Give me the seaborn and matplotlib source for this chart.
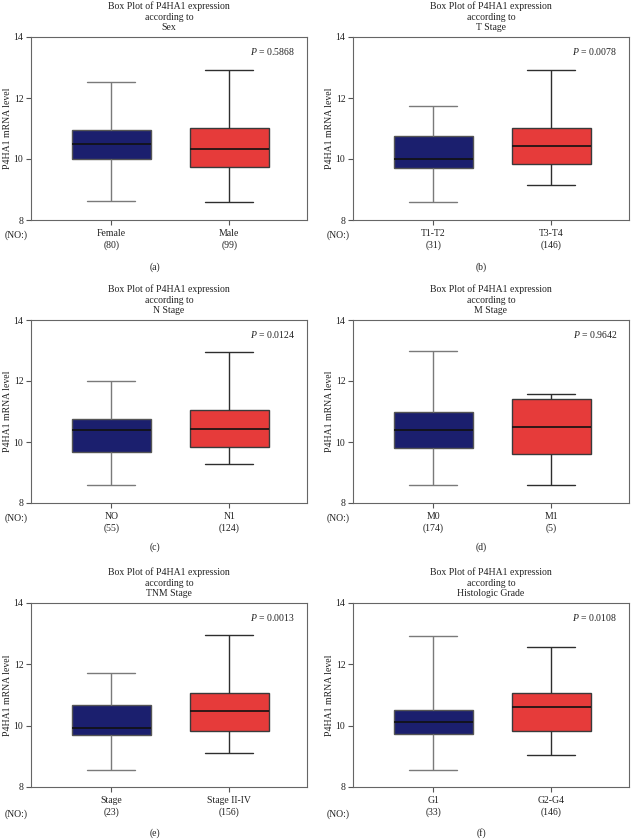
import matplotlib
matplotlib.use("Agg")

import matplotlib.pyplot as plt
import numpy as np
import pandas as pd
import seaborn as sns

# ── data ──
panel_factors = ["Sex", "T Stage", "N Stage", "M Stage", "TNM Stage", "Histologic Grade"]
panel_letters = ["(a)", "(b)", "(c)", "(d)", "(e)", "(f)"]
group_names = [
    ["Female", "Male"],
    ["T1-T2", "T3-T4"],
    ["NO", "N1"],
    ["M0", "M1"],
    ["Stage", "Stage II-IV"],
    ["G1", "G2-G4"],
]
group_counts = [[80, 99], [31, 146], [55, 124], [174, 5], [23, 156], [33, 146]]
p_values = ["0.5868", "0.0078", "0.0124", "0.9642", "0.0013", "0.0108"]

# five summary points per group: min, Q1, median, Q3, max
sex_female = [8.63, 10.01, 10.48, 10.96, 12.51]
sex_male = [8.58, 9.73, 10.32, 11.03, 12.93]
t_low = [8.58, 9.69, 9.99, 10.75, 11.73]
t_high = [9.15, 9.83, 10.43, 11.03, 12.93]
n_low = [8.58, 9.68, 10.38, 10.77, 11.99]
n_high = [9.28, 9.85, 10.43, 11.04, 12.94]
m_low = [8.58, 9.81, 10.39, 10.97, 12.99]
m_high = [8.58, 9.61, 10.48, 11.41, 11.57]
tnm_low = [8.57, 9.68, 9.91, 10.69, 11.72]
tnm_high = [9.12, 9.84, 10.48, 11.07, 12.95]
grade_low = [8.57, 9.73, 10.11, 10.50, 12.94]
grade_high = [9.04, 9.84, 10.61, 11.07, 12.55]

panel_values = [
    (sex_female, sex_male),
    (t_low, t_high),
    (n_low, n_high),
    (m_low, m_high),
    (tnm_low, tnm_high),
    (grade_low, grade_high),
]

# ── style ──
NAVY = "#1b1f6e"
RED = "#e63b3a"
EDGE = ["#555555", "#3a3a3a"]
WHISKER = ["#7a7a7a", "#2e2e2e"]
TEXT = "#222222"

sns.set_style("ticks")
plt.rcParams["font.family"] = ["Liberation Serif", "DejaVu Serif"]
plt.rcParams["mathtext.fontset"] = "custom"
plt.rcParams["mathtext.it"] = "Liberation Serif:italic"
plt.rcParams["mathtext.rm"] = "Liberation Serif"

W, H = 631, 840
fig = plt.figure(figsize=(W / 100, H / 100), dpi=100)

# axes boxes in pixels: (left, right) per column, (top, bottom) per row
col_px = [(31, 307), (353, 629)]
row_px = [(37, 220), (320, 503), (603, 787)]
letter_x = [155, 481]
letter_y = [267, 547, 833]

for i in range(6):
    r, c = divmod(i, 2)
    x0, x1 = col_px[c]
    y0, y1 = row_px[r]
    ax = fig.add_axes([x0 / W, 1 - y1 / H, (x1 - x0) / W, (y1 - y0) / H])

    names = group_names[i]
    vals = panel_values[i]
    df = pd.DataFrame({
        "group": np.repeat(names, [len(vals[0]), len(vals[1])]),
        "value": np.concatenate([vals[0], vals[1]]),
    })

    sns.boxplot(
        data=df, x="group", y="value", hue="group", order=names, hue_order=names,
        palette=[NAVY, RED], saturation=1, whis=(0, 100), width=0.67,
        linewidth=1.0, linecolor="#333333", legend=False, ax=ax,
    )

    for k, cont in enumerate(ax.containers):
        for b in cont.boxes:
            b.set_edgecolor(EDGE[k])
            b.set_linewidth(1.0)
        for wl in cont.whiskers:
            wl.set_color(WHISKER[k])
            wl.set_linewidth(1.0)
        for cap in cont.caps:
            cap.set_color(WHISKER[k])
            cap.set_linewidth(1.0)
            xd = np.asarray(cap.get_xdata(), dtype=float)
            mid = xd.mean()
            half = (xd[1] - xd[0]) / 2 * 1.22
            cap.set_xdata([mid - half, mid + half])
        for m in cont.medians:
            m.set_color("#111111")
            m.set_linewidth(1.2)

    ax.set_xlim(-0.68, 1.66)
    ax.set_ylim(8, 14)
    ax.set_yticks([8, 10, 12, 14])
    ax.set_xticks([0, 1])
    ax.set_xticklabels([f"{n}\n({cnt})" for n, cnt in zip(names, group_counts[i])],
                       linespacing=1.35)
    ax.tick_params(axis="both", direction="out", length=3.5, width=0.8,
                   colors="#555555", labelcolor=TEXT, labelsize=7)
    ax.tick_params(axis="x", pad=3)
    ax.tick_params(axis="y", pad=2)
    for sp in ax.spines.values():
        sp.set_visible(True)
        sp.set_color("#666666")
        sp.set_linewidth(0.8)

    ax.set_xlabel("")
    ax.set_ylabel("P4HA1 mRNA level", fontsize=7, color=TEXT, labelpad=1)
    ax.set_title("Box Plot of P4HA1 expression\naccording to\n" + panel_factors[i],
                 fontsize=7, color=TEXT, pad=5, linespacing=1.2)

    ax.text(0.957, 0.92, f"$P$ = {p_values[i]}", transform=ax.transAxes,
            ha="right", va="center", fontsize=7, color=TEXT)

    no_offset = -15 if r < 2 else -27
    ax.annotate("(NO:)", xy=(0, 0), xycoords="axes fraction",
                xytext=(-15, no_offset), textcoords="offset pixels",
                ha="center", va="center", fontsize=7, color=TEXT)

    fig.text(letter_x[c] / W, 1 - letter_y[r] / H, panel_letters[i],
             ha="center", va="center", fontsize=7, color=TEXT)

fig.savefig("out.png", dpi=100)
